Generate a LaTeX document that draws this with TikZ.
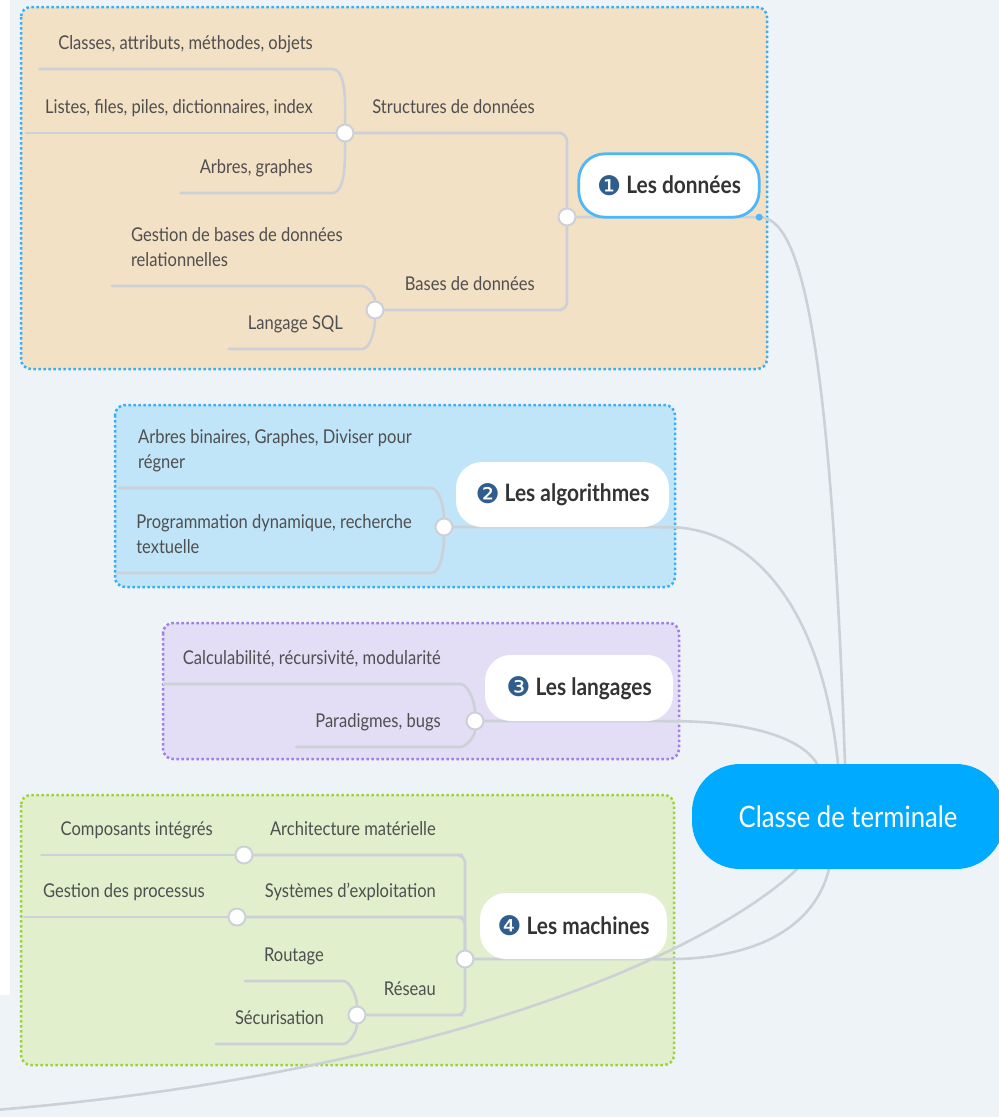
\documentclass[tikz,border=0pt]{standalone}
\usepackage{fontspec}
\setmainfont{Lato}[FakeStretch=0.87]
\newfontfamily\dingfont{DejaVu Sans}

\definecolor{bgc}{HTML}{EEF3F7}
\definecolor{tanf}{HTML}{F3E1C5}
\definecolor{skyf}{HTML}{C1E5F8}
\definecolor{lavf}{HTML}{E3DEF5}
\definecolor{grnf}{HTML}{E1EFCD}
\definecolor{bluedot}{HTML}{3AAEF4}
\definecolor{purpdot}{HTML}{A47EE6}
\definecolor{grndot}{HTML}{9CD33A}
\definecolor{lineg}{HTML}{CBD1D6}
\definecolor{badge}{HTML}{2F5D8C}
\definecolor{txt}{HTML}{4F4F4F}
\definecolor{mtxt}{HTML}{333333}
\definecolor{hubc}{HTML}{00AAFF}
\definecolor{selblue}{HTML}{4DB8F5}

\pgfdeclarelayer{back}
\pgfdeclarelayer{mid}
\pgfsetlayers{back,mid,main}

% dark disc with the chapter number
\newcommand\numdot[1]{{\dingfont\mdseries\color{badge}\fontsize{27}{27}\selectfont\raisebox{-1.5pt}{#1}}}
% fixed depth below the last line of a two-line topic
\newcommand\lastdepth{\rule[-19pt]{0pt}{19pt}}

\begin{document}
\begin{tikzpicture}[x=1pt,y=-1pt,
  conn/.style={draw=lineg, line width=2.6pt, line cap=round},
  junc/.style={circle, fill=white, draw=lineg, line width=2pt, minimum size=17pt, inner sep=0pt},
  topic/.style={text=txt, font=\fontsize{19}{25}\selectfont, inner xsep=19pt, inner ysep=2pt,
                text height=14pt, text depth=17pt, anchor=south east},
  topicml/.style={text=txt, font=\fontsize{19}{25}\selectfont, inner xsep=19pt, inner ysep=0pt,
                align=left, anchor=south east},
  chapter/.style={fill=white, rounded corners=26pt, text=mtxt, inner sep=0pt,
                font=\bfseries\fontsize{24}{26}\selectfont},
  hub/.style={fill=hubc, text=white, rounded corners=48pt, minimum width=312pt,
                minimum height=105pt, inner sep=0pt, font=\fontsize{29.5}{31}\selectfont},
  grp/.style={rounded corners=10pt, line width=2.5pt, dash pattern=on 2.5pt off 2.5pt}]

\useasboundingbox (0,0) rectangle (999,1117);

% ---------- background and group frames ----------
\begin{pgfonlayer}{back}
  \fill[bgc] (0,0) rectangle (999,1117);
  \fill[white] (0,0) rectangle (10,995);
  \filldraw[grp, fill=tanf, draw=bluedot] (21,7) rectangle (767,369);
  \filldraw[grp, fill=skyf, draw=bluedot] (115,405) rectangle (675,587);
  \filldraw[grp, fill=lavf, draw=purpdot] (163,623) rectangle (679,759);
  \filldraw[grp, fill=grnf, draw=grndot] (21,795) rectangle (674,1065);
\end{pgfonlayer}

% ---------- central topic ----------
\node[hub] (C) at (848,816.5) {Classe de terminale};

% ---------- 1 Les données ----------
\node[chapter, minimum width=180pt, minimum height=63pt, fill=none] (D) at (669,185.5)
  {\numdot{❶}\hspace{5pt}Les données};
\node[junc] (J1) at (567,217) {};
\node[junc] (j1) at (345,133) {};
\node[junc] (j2) at (375,310) {};
\node[topic] (p11) at (554,133) {Structures de données};
\node[topic] (p12) at (554,310) {Bases de données};
\node[topic] (c11) at (332,69) {Classes, attributs, méthodes, objets};
\node[topic] (c12) at (332,133) {Listes, files, piles, dictionnaires, index};
\node[topic] (c13) at (332,193) {Arbres, graphes};
\node[topicml] (c21) at (362,286) {Gestion de bases de données\\relationnelles\lastdepth};
\node[topic] (c22) at (362,349) {Langage SQL};

% ---------- 2 Les algorithmes ----------
\node[chapter, minimum width=213pt, minimum height=65pt] (A) at (562.5,494.5)
  {\numdot{❷}\hspace{5pt}Les algorithmes};
\node[junc] (J2) at (444,527) {};
\node[topicml] (b1) at (431,488) {Arbres binaires, Graphes, Diviser pour\\régner\lastdepth};
\node[topicml] (b2) at (431,573) {Programmation dynamique, recherche\\textuelle\lastdepth};

% ---------- 3 Les langages ----------
\node[chapter, minimum width=188pt, minimum height=66pt] (L) at (579,688)
  {\numdot{❸}\hspace{5pt}Les langages};
\node[junc] (J3) at (475,721) {};
\node[topic] (l1) at (460,684) {Calculabilité, récursivité, modularité};
\node[topic] (l2) at (460,747) {Paradigmes, bugs};

% ---------- 4 Les machines ----------
\node[chapter, minimum width=187pt, minimum height=66pt] (M) at (573.5,926)
  {\numdot{❹}\hspace{5pt}Les machines};
\node[junc] (J4) at (465,959) {};
\node[junc] (k1) at (244,855) {};
\node[junc] (k2) at (237,917) {};
\node[junc] (k3) at (357,1015) {};
\node[topic] (m1) at (455,855) {Architecture matérielle};
\node[topic] (m2) at (455,917) {Systèmes d'exploitation};
\node[topic] (m3) at (455,1015) {Réseau};
\node[topic] (n1) at (232,855) {Composants intégrés};
\node[topic] (n2) at (224,917) {Gestion des processus};
\node[topic] (r1) at (343,981) {Routage};
\node[topic] (r2) at (343,1044) {Sécurisation};

\coordinate (edgeL) at (-5,1110);

% ---------- connectors ----------
\begin{pgfonlayer}{mid}
  % group 1
  \draw[conn] (c11.south west) -- (c11.south east) to[out=0,in=90,looseness=0.7] (j1);
  \draw[conn] (c12.south west) -- (j1);
  \draw[conn] (c13.south west) -- (c13.south east) to[out=0,in=-90,looseness=0.7] (j1);
  \draw[conn] (c21.south west) -- (c21.south east) to[out=0,in=90,looseness=0.7] (j2);
  \draw[conn] (c22.south west) -- (c22.south east) to[out=0,in=-90,looseness=0.7] (j2);
  \draw[conn, rounded corners=8pt] (j1) -- (p11.south east) -| (J1);
  \draw[conn, rounded corners=8pt] (j2) -- (p12.south east) -| (J1);
  % group 2
  \draw[conn] (b1.south west) -- (b1.south east) to[out=0,in=90,looseness=0.7] (J2);
  \draw[conn] (b2.south west) -- (b2.south east) to[out=0,in=-90,looseness=0.7] (J2);
  % group 3
  \draw[conn] (l1.south west) -- (l1.south east) to[out=0,in=90,looseness=0.7] (J3);
  \draw[conn] (l2.south west) -- (l2.south east) to[out=0,in=-90,looseness=0.7] (J3);
  % group 4
  \draw[conn] (n1.south west) -- (k1);
  \draw[conn] (n2.south west) -- (k2);
  \draw[conn] (r1.south west) -- (r1.south east) to[out=0,in=90,looseness=0.7] (k3);
  \draw[conn] (r2.south west) -- (r2.south east) to[out=0,in=-90,looseness=0.7] (k3);
  \draw[conn, rounded corners=8pt] (k1) -- (m1.south east) -| (J4);
  \draw[conn, rounded corners=8pt] (k2) -- (m2.south east) -| (J4);
  \draw[conn, rounded corners=8pt] (k3) -- (m3.south east) -| (J4);
  % chapters to the central topic
  \draw[conn] (J1) -- (D.south east) .. controls (800,217) and (830,330) .. ([xshift=-3pt]C.north);
  \draw[conn] (J2) -- (A.south east) .. controls (740,527) and (820,590) .. ([xshift=-10pt]C.north);
  \draw[conn] (J3) -- (L.south east) .. controls (740,721) and (800,735) .. ([xshift=-31pt]C.north);
  \draw[conn] (J4) -- (M.south east) .. controls (760,959) and (815,925) .. ([xshift=-19pt]C.south);
  \draw[conn] ([xshift=-51pt]C.south) .. controls (700,960) and (420,1075) .. (edgeL);
  % selected chapter frame
  \filldraw[fill=white, draw=selblue, line width=2.8pt]
    (D.south) [rounded corners=26pt] -- (D.south west) -- (D.north west) -- (D.north east)
    -- (D.south east) [sharp corners] -- cycle;
  \fill[selblue] (D.south east) circle (3.5pt);
\end{pgfonlayer}
\end{tikzpicture}
\end{document}
